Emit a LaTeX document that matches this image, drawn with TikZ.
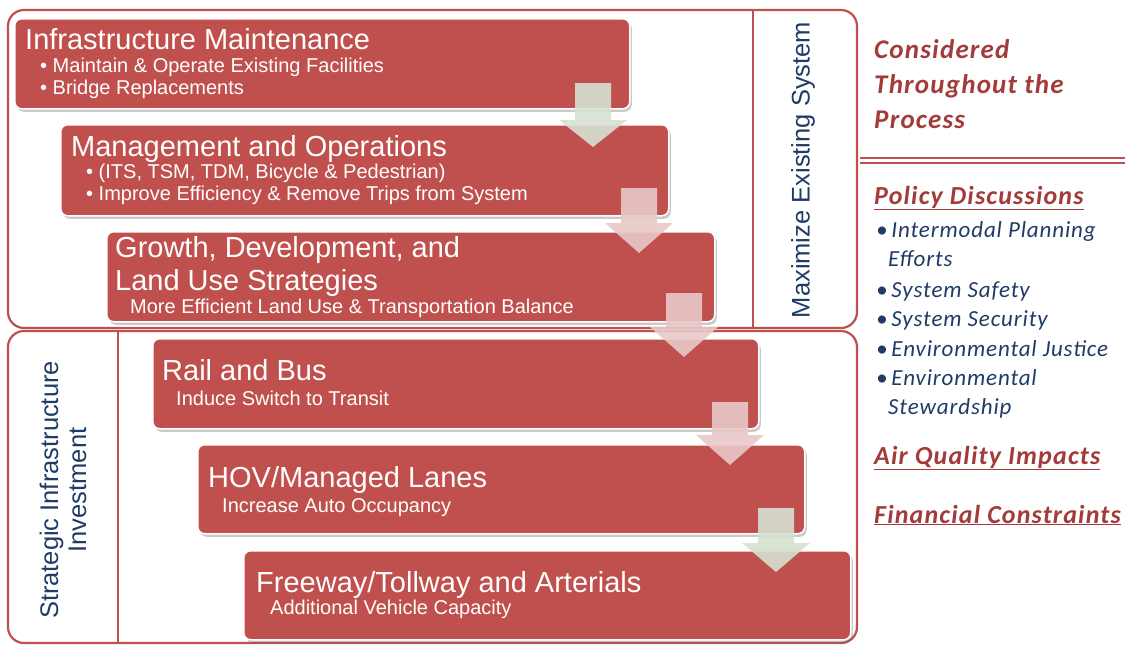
\documentclass[tikz,border=0pt]{standalone}
\usepackage{fontspec}
\setmainfont{Liberation Sans}
\newfontfamily\calfont[LetterSpace=4.5]{Carlito}
\newfontfamily\calsmall[LetterSpace=3.8]{Carlito}
\usetikzlibrary{shadows}
\definecolor{boxred}{HTML}{C0504D}
\definecolor{darkred}{HTML}{A23B39}
\definecolor{navy}{HTML}{1F3B66}
\definecolor{arrgreen}{HTML}{D6E1D2}
\definecolor{arrpink}{HTML}{E8C8C8}
\newcommand\blkarr[5]{%
  \fill[#1] ({#2-18},#3) -- ({#2+18},#3) -- ({#2+18},#4) -- ({#2+34},#4) -- (#2,#5) -- ({#2-34},#4) -- ({#2-18},#4) -- cycle;}
\tikzset{
  redbox/.style={fill=boxred, draw=white, line width=1.5pt, rounded corners=7pt, anchor=north west, inner sep=0pt,
    drop shadow={shadow xshift=2pt, shadow yshift=-3pt, opacity=0.35, fill=black!60}},
  ttl/.style={anchor=base west, inner sep=0pt, text=white, font=\fontsize{29}{32}\selectfont},
  sub/.style={anchor=base west, inner sep=0pt, text=white, font=\fontsize{20}{22}\selectfont},
  frame/.style={draw=boxred, line width=2.2pt, rounded corners=16pt},
  divline/.style={draw=boxred, line width=2.2pt},
  vlabel/.style={rotate=90, text=navy, align=center, inner sep=0pt, font=\fontsize{25.5}{28}\selectfont},
  sidehead/.style={anchor=base west, inner sep=0pt, text=darkred, font=\calfont\bfseries\itshape\fontsize{27}{29}\selectfont},
  sidebul/.style={anchor=base west, inner sep=0pt, text=navy, font=\calsmall\itshape\fontsize{23}{25}\selectfont},
  garr/.style={fill=arrgreen, opacity=0.9},
  parr/.style={fill=arrpink, opacity=0.9},
}
\begin{document}
\begin{tikzpicture}[x=1pt,y=-1pt]
\useasboundingbox (0,0) rectangle (1125,646);
% outer frames
\draw[frame] (8,10) rectangle (857,328);
\draw[divline] (753,10) -- (753,328);
\draw[frame] (8,331) rectangle (857,643);
\draw[divline] (118,331) -- (118,643);
\draw[boxred, line width=1.5pt] (860,158) -- (1125,158);
\draw[boxred, line width=1.5pt] (860,163) -- (1125,163);
% side labels
\node[vlabel] (maxsys) at (803,170) {Maximize Existing System};
\node[vlabel] (strat) at (63,490) {Strategic Infrastructure\\Investment};
% red boxes
\node[redbox, minimum width=615pt, minimum height=90pt] (b1) at (14,18) {};
\node[redbox, minimum width=608pt, minimum height=91pt] (b2) at (60,124) {};
\node[redbox, minimum width=608pt, minimum height=90pt] (b3) at (106,231) {};
\node[redbox, minimum width=606pt, minimum height=90pt] (b4) at (152,338) {};
\node[redbox, minimum width=607pt, minimum height=89pt] (b5) at (197,444) {};
\node[redbox, minimum width=607pt, minimum height=89pt] (b6) at (243,550) {};
% arrows
\blkarr{garr}{593}{83}{120}{147}
\blkarr{parr}{639}{188}{223}{253}
\blkarr{parr}{684}{293}{327}{357}
\blkarr{parr}{730}{402}{435}{465}
\blkarr{garr}{776}{508}{543}{572}
% box texts
\node[ttl] (t1) at (25,49) {Infrastructure Maintenance};
\node[sub] (t1a) at (40,72) {\textbullet\ Maintain \& Operate Existing Facilities};
\node[sub] (t1b) at (40,94) {\textbullet\ Bridge Replacements};
\node[ttl] (t2) at (71,156) {Management and Operations};
\node[sub] (t2a) at (86,178) {\textbullet\ (ITS, TSM, TDM, Bicycle \& Pedestrian)};
\node[sub] (t2b) at (86,200) {\textbullet\ Improve Efficiency \& Remove Trips from System};
\node[ttl] (t3) at (115,257) {Growth, Development, and};
\node[ttl] (t3b) at (115,290) {Land Use Strategies};
\node[sub] (t3a) at (130,313) {More Efficient Land Use \& Transportation Balance};
\node[ttl] (t4) at (162,380) {Rail and Bus};
\node[sub] (t4a) at (176,405) {Induce Switch to Transit};
\node[ttl] (t5) at (208,487) {HOV/Managed Lanes};
\node[sub] (t5a) at (222,512) {Increase Auto Occupancy};
\node[ttl] (t6) at (256,592) {Freeway/Tollway and Arterials};
\node[sub] (t6a) at (270,614) {Additional Vehicle Capacity};
% right panel
\node[sidehead] (c1) at (874,58) {Considered};
\node[sidehead] (c2) at (874,93) {Throughout the};
\node[sidehead] (c3) at (874,128) {Process};
\node[sidehead, font=\calfont\bfseries\itshape\fontsize{26}{28}\selectfont] (p0) at (874,204) {\underline{Policy Discussions}};
\node[sidebul] (p1) at (876,237) {\textbullet\,Intermodal Planning};
\node[sidebul] (p1b) at (888,266) {Efforts};
\node[sidebul] (p2) at (876,297) {\textbullet\,System Safety};
\node[sidebul] (p3) at (876,326) {\textbullet\,System Security};
\node[sidebul] (p4) at (876,356) {\textbullet\,Environmental Justice};
\node[sidebul] (p5) at (876,385) {\textbullet\,Environmental};
\node[sidebul] (p5b) at (888,414) {Stewardship};
\node[sidehead, font=\calfont\bfseries\itshape\fontsize{26}{28}\selectfont] (aq) at (874,464) {\underline{Air Quality Impacts}};
\node[sidehead, font=\calfont\bfseries\itshape\fontsize{26}{28}\selectfont] (fc) at (874,523) {\underline{Financial Constraints}};
\end{tikzpicture}
\end{document}
